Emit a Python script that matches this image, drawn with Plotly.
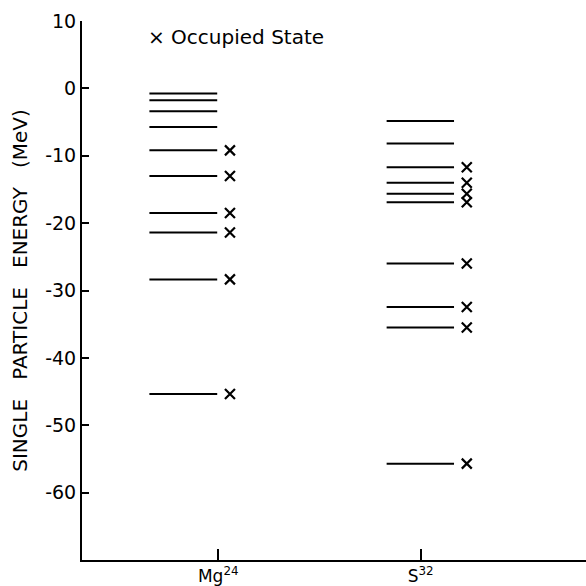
import plotly.graph_objects as go

# ---- data ----
nuclei = ["Mg24", "S32"]
tick_labels = ["Mg<sup>24</sup>", "S<sup>32</sup>"]

mg_levels = [-0.75, -1.75, -3.4, -5.75, -9.2, -13.0, -18.5, -21.4, -28.35, -45.35]
mg_occupied = [False, False, False, False, True, True, True, True, True, True]

s_levels = [-4.85, -8.2, -11.7, -14.0, -15.65, -16.9, -26.0, -32.45, -35.5, -55.7]
s_occupied = [False, False, True, True, True, True, True, True, True, True]

y_tick_vals = [10, 0, -10, -20, -30, -40, -50, -60]
y_tick_text = ["10", "0", "-10", "-20", "-30", "-40", "-50", "-60"]

# ---- layout constants (positions in axis units) ----
mg_x = 1.0
s_x = 2.0
mg_seg = (0.66, 0.995)
s_seg = (1.832, 2.165)
mg_cross = 1.058
s_cross = 2.228

FONT = "DejaVu Sans"

def segments(levels, seg):
    xs, ys = [], []
    for v in levels:
        xs += [seg[0], seg[1], None]
        ys += [v, v, None]
    return xs, ys

fig = go.Figure()

for levels, occ, seg, cx in [
    (mg_levels, mg_occupied, mg_seg, mg_cross),
    (s_levels, s_occupied, s_seg, s_cross),
]:
    xs, ys = segments(levels, seg)
    fig.add_trace(go.Scatter(x=xs, y=ys, mode="lines",
                             line=dict(color="black", width=2),
                             showlegend=False, hoverinfo="skip"))
    oy = [v for v, o in zip(levels, occ) if o]
    fig.add_trace(go.Scatter(x=[cx] * len(oy), y=oy, mode="markers",
                             marker=dict(symbol="x-thin", size=10,
                                         line=dict(color="black", width=2.2)),
                             showlegend=False))

W = H = 586
L, R, T, B = 82, 0, 21, 26

fig.add_annotation(x=(146 - L) / (W - L - R), y=1 - (37 - T) / (H - T - B),
                   xref="paper", yref="paper", text="× Occupied State",
                   showarrow=False, xanchor="left", yanchor="middle",
                   font=dict(family=FONT, size=20, color="black"))

fig.update_layout(
    width=W, height=H,
    margin=dict(l=L, r=R, t=T, b=B),
    paper_bgcolor="white", plot_bgcolor="white",
    font=dict(family=FONT, size=17, color="black"),
    xaxis=dict(range=[0.327, 2.817], tickvals=[mg_x, s_x], ticktext=tick_labels,
               showline=True, linecolor="black", linewidth=2,
               ticks="inside", ticklen=11, tickwidth=1.5, tickcolor="black",
               showgrid=False, zeroline=False,
               tickfont=dict(family=FONT, size=17)),
    yaxis=dict(range=[-70, 10], tickvals=y_tick_vals, ticktext=y_tick_text,
               showline=True, linecolor="black", linewidth=2,
               ticks="inside", ticklen=7, tickwidth=1.5, tickcolor="black",
               showgrid=False, zeroline=False,
               tickfont=dict(family=FONT, size=19),
               title=dict(text="SINGLE   PARTICLE   ENERGY   (MeV)",
                          font=dict(family=FONT, size=20), standoff=12)),
)

fig.write_html("out.html", config={"displayModeBar": False},
               post_script="document.body.style.margin='0';document.body.style.overflow='hidden';")
